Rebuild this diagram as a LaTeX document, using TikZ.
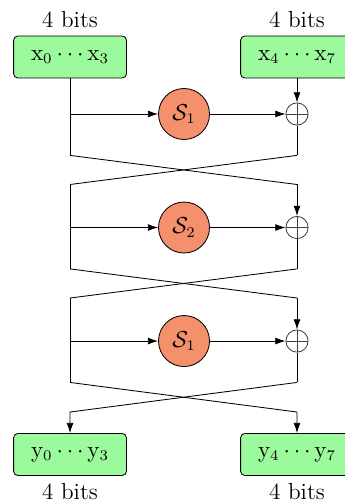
\documentclass[tikz,border=0pt]{standalone}
\usepackage{amsmath}
\usepackage{amssymb}
\usepackage{xcolor}
\usepackage{tikz}
\usetikzlibrary{arrows.meta}
\definecolor{wordgreen}{RGB}{155,250,155}
\definecolor{sboxred}{RGB}{244,145,108}
\tikzset{
  wordbox/.style={draw,fill=wordgreen,rounded corners=2pt,
    minimum width=1.88cm,minimum height=0.7cm,font=\fontsize{10.5}{12}\selectfont},
  bitlabel/.style={font=\fontsize{11}{13}\selectfont},
  sbox/.style={draw,circle,fill=sboxred,minimum size=0.85cm,inner sep=0pt,
    font=\fontsize{10.5}{12}\selectfont},
  xorop/.style={draw=black!75,circle,minimum size=0.37cm,inner sep=0pt,
    path picture={\draw[black!75]
      (path picture bounding box.north) -- (path picture bounding box.south)
      (path picture bounding box.west) -- (path picture bounding box.east);}},
  flow/.style={-{Latex[length=1.7mm,width=1.15mm]}}
}
\newcommand{\lcol}{1.167}
\newcommand{\rcol}{4.95}

\begin{document}
\begin{tikzpicture}
  \useasboundingbox (0,0) rectangle (5.75,-8.35);
  % input and output words
  \node[wordbox,label={[bitlabel]above:4 bits}] (xin0) at (\lcol,-0.95)
    {$\mathrm{x}_0\cdots\mathrm{x}_3$};
  \node[wordbox,label={[bitlabel]above:4 bits}] (xin1) at (\rcol,-0.95)
    {$\mathrm{x}_4\cdots\mathrm{x}_7$};
  \node[wordbox,label={[bitlabel]below:4 bits}] (yout0) at (\lcol,-7.575)
    {$\mathrm{y}_0\cdots\mathrm{y}_3$};
  \node[wordbox,label={[bitlabel]below:4 bits}] (yout1) at (\rcol,-7.575)
    {$\mathrm{y}_4\cdots\mathrm{y}_7$};
  % the three rounds
  \foreach \i/\s in {1/1,2/2,3/1}{
    \pgfmathsetmacro\yc{-1.9-(\i-1)*1.892}
    \coordinate (lt\i) at (\lcol,\yc+0.717);
    \coordinate (rt\i) at (\rcol,\yc+0.717);
    \coordinate (lb\i) at (\lcol,\yc-0.69);
    \coordinate (rb\i) at (\rcol,\yc-0.69);
    \coordinate (br\i) at (\lcol,\yc);
    \node[sbox] (s\i) at (3.067,\yc) {$\mathcal{S}_\s$};
    \node[xorop] (x\i) at (\rcol,\yc) {};
    \draw[flow] (br\i) -- (s\i);
    \draw[flow] (s\i) -- (x\i);
    \draw (x\i) -- (rb\i);
  }
  \coordinate (lo) at (\lcol,-6.867);
  \coordinate (ro) at (\rcol,-6.867);
  % vertical branches
  \draw (xin0) -- (lb1);
  \draw[flow] (xin1) -- (x1);
  \foreach \i in {2,3}{
    \draw (lt\i) -- (lb\i);
    \draw[flow] (rt\i) -- (x\i);
  }
  % swaps between rounds
  \draw (lb1) -- (rt2);
  \draw (rb1) -- (lt2);
  \draw (lb2) -- (rt3);
  \draw (rb2) -- (lt3);
  \draw[flow] (lb3) -- (ro) -- (yout1);
  \draw[flow] (rb3) -- (lo) -- (yout0);
\end{tikzpicture}
\end{document}
